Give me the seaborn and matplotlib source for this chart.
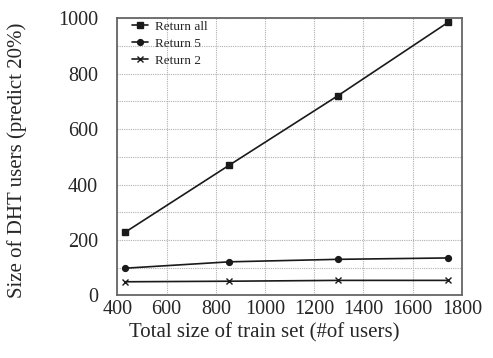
import matplotlib
matplotlib.use("Agg")
import matplotlib.pyplot as plt
import seaborn as sns
import pandas as pd
from matplotlib.ticker import MultipleLocator

train_size = [432, 855, 1297, 1745]
return_all = [228, 470, 721, 986]
return_5 = [98, 121, 130, 135]
return_2 = [49, 51, 54, 54]
series_names = ["Return all", "Return 5", "Return 2"]

rows = []
for name, vals in zip(series_names, [return_all, return_5, return_2]):
    for x, y in zip(train_size, vals):
        rows.append({"x": x, "y": y, "series": name})
df = pd.DataFrame(rows)

sns.set_style("ticks")
plt.rcParams["font.family"] = ["Liberation Serif", "DejaVu Serif"]

fig = plt.figure(figsize=(4.93, 3.58), dpi=100)
ax = fig.add_axes([0.238, 0.175, 0.699, 0.774])

markers = {"Return all": "s", "Return 5": "o", "Return 2": "x"}
msizes = {"Return all": 4.2, "Return 5": 4.2, "Return 2": 4}
for name in series_names:
    sub = df[df["series"] == name]
    sns.lineplot(data=sub, x="x", y="y", ax=ax, color="#1a1a1a", lw=1.2,
                 marker=markers[name], markersize=msizes[name],
                 markeredgecolor="#1a1a1a", markerfacecolor="#1a1a1a",
                 markeredgewidth=1.0, label=name)

ax.set_xlim(400, 1800)
ax.set_ylim(0, 1000)
ax.xaxis.set_major_locator(MultipleLocator(200))
ax.yaxis.set_major_locator(MultipleLocator(200))
ax.yaxis.set_minor_locator(MultipleLocator(100))
ax.grid(True, which="both", color="#b0b0b0", linestyle=(0, (1, 1)), linewidth=0.8)
ax.tick_params(axis="both", which="both", length=0, labelsize=14.5)
ax.tick_params(axis="y", pad=14)
ax.tick_params(axis="x", pad=3)
for s in ax.spines.values():
    s.set_color("#666666")
    s.set_linewidth(1.3)

ax.set_xlabel("Total size of train set (#of users)", fontsize=15)
ax.set_ylabel("Size of DHT users (predict 20%)", fontsize=15)
ax.xaxis.label.set_va("center")
ax.yaxis.label.set_va("center")
ax.xaxis.set_label_coords(0.426, -0.135)
ax.yaxis.set_label_coords(-0.29, 0.489)

leg = ax.legend(loc="upper left", frameon=False, fontsize=9.5, handlelength=1.2,
                handletextpad=0.5, labelspacing=0.35, borderaxespad=0.2,
                bbox_to_anchor=(0.02, 1.02))

fig.savefig("out.png", dpi=100)
